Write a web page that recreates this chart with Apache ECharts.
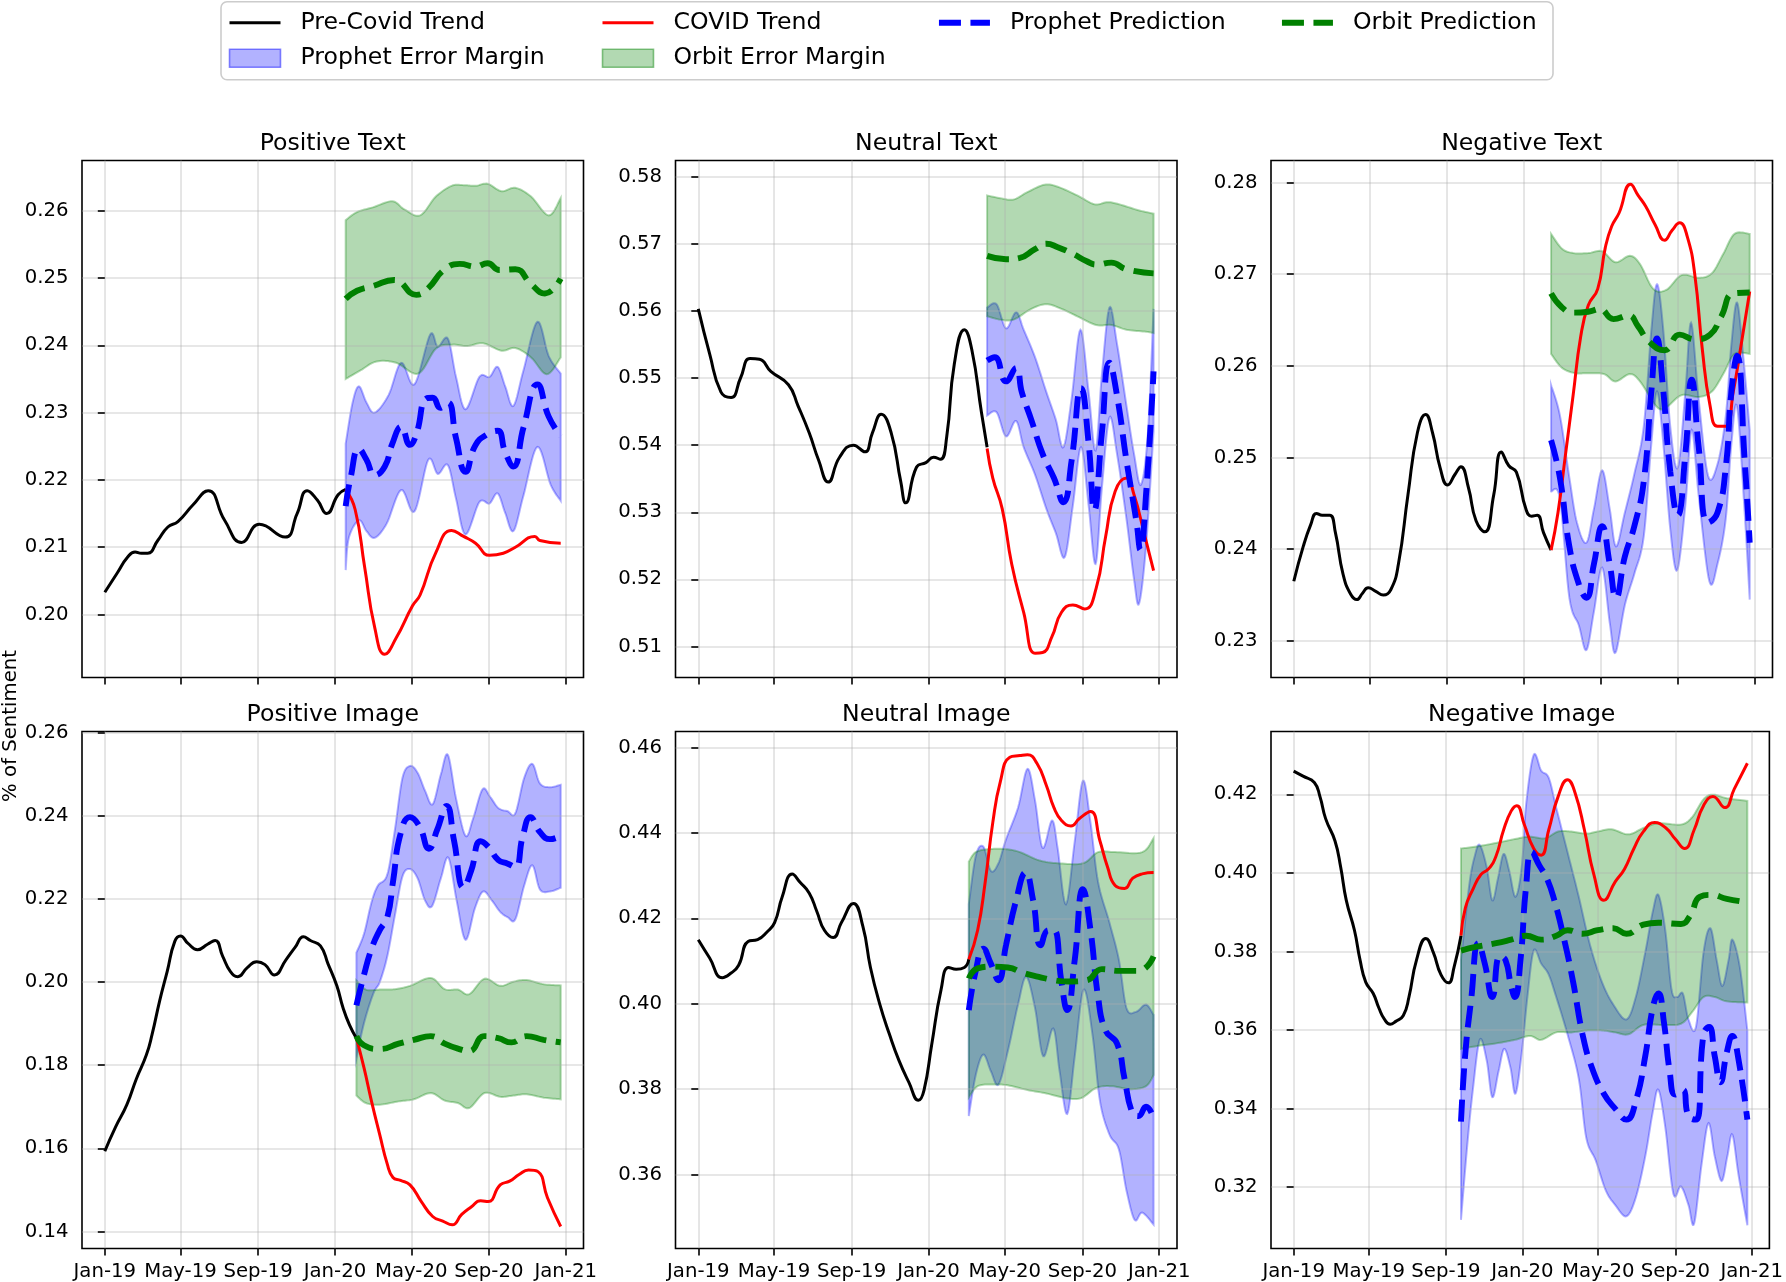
<!DOCTYPE html>
<html>
<head>
<meta charset="utf-8">
<script src="https://cdn.jsdelivr.net/npm/echarts@6.0.0/dist/echarts.min.js"></script>
<style>
html,body{margin:0;padding:0;background:#fff;}
#chart{width:1786px;height:1282px;}
</style>
</head>
<body>
<div id="chart"></div>
<script>
// ---------- data (x = days since 2019-01-01) ----------
const xTickDays = [0, 120, 243, 365, 486, 609, 731];
const xTickLabels = ['Jan-19', 'May-19', 'Sep-19', 'Jan-20', 'May-20', 'Sep-20', 'Jan-21'];
const panelTitles = ['Positive Text', 'Neutral Text', 'Negative Text', 'Positive Image', 'Neutral Image', 'Negative Image'];
const seriesNames = ['Pre-Covid Trend', 'COVID Trend', 'Prophet Prediction', 'Orbit Prediction', 'Prophet Error Margin', 'Orbit Error Margin'];

const p1YTicks = [0.20, 0.21, 0.22, 0.23, 0.24, 0.25, 0.26];
const p2YTicks = [0.51, 0.52, 0.53, 0.54, 0.55, 0.56, 0.57, 0.58];
const p3YTicks = [0.23, 0.24, 0.25, 0.26, 0.27, 0.28];
const p4YTicks = [0.14, 0.16, 0.18, 0.20, 0.22, 0.24, 0.26];
const p5YTicks = [0.36, 0.38, 0.40, 0.42, 0.44, 0.46];
const p6YTicks = [0.32, 0.34, 0.36, 0.38, 0.40, 0.42];

// Panel 1: Positive Text
const p1Pre = [[0,0.2033],[20,0.2062],[36,0.2085],[48,0.2093],[58,0.2091],[68,0.2091],[84,0.2110],[100,0.2130],[116,0.2138],[140,0.2163],[164,0.2184],[190,0.2140],[217,0.2107],[245,0.2134],[286,0.2115],[305,0.2150],[321,0.2184],[337,0.2170],[352,0.2150],[370,0.2178],[382,0.2186]];
const p1Covid = [[382,0.2186],[397,0.2156],[412,0.2071],[428,0.1981],[444,0.1941],[462,0.1965],[488,0.2013],[500,0.2029],[525,0.2092],[550,0.2125],[569,0.2116],[588,0.2106],[610,0.2088],[632,0.2091],[651,0.2100],[682,0.2116],[690,0.2110],[723,0.2106]];
const p1ProphetMean = [[382,0.2161],[390,0.2204],[403,0.2246],[415,0.2230],[428,0.2207],[444,0.2220],[456,0.2254],[470,0.2279],[484,0.2252],[494,0.2268],[510,0.2321],[520,0.2322],[532,0.2307],[544,0.2315],[557,0.2262],[572,0.2212],[588,0.2252],[607,0.2268],[623,0.2273],[635,0.2241],[648,0.2220],[664,0.2278],[686,0.2342],[704,0.2294],[723,0.2265]];
const p1ProphetUpper = [[382,0.2254],[393,0.2315],[403,0.2339],[415,0.2315],[428,0.2300],[450,0.2326],[470,0.2374],[491,0.2342],[516,0.2416],[528,0.2398],[544,0.2410],[557,0.2353],[572,0.2305],[594,0.2353],[610,0.2353],[623,0.2368],[635,0.2339],[648,0.2310],[664,0.2363],[686,0.2435],[704,0.2384],[723,0.2358]];
const p1ProphetLower = [[382,0.2066],[387,0.2114],[403,0.2140],[415,0.2124],[428,0.2114],[447,0.2135],[470,0.2185],[491,0.2153],[513,0.2230],[528,0.2209],[544,0.2222],[557,0.2172],[572,0.2119],[594,0.2167],[610,0.2165],[623,0.2180],[635,0.2151],[648,0.2124],[664,0.2177],[686,0.2249],[707,0.2193],[723,0.2169]];
const p1OrbitMean = [[382,0.2469],[400,0.2481],[425,0.2488],[459,0.2497],[494,0.2475],[513,0.2485],[538,0.2512],[563,0.2521],[588,0.2517],[607,0.2522],[626,0.2512],[651,0.2513],[676,0.2491],[698,0.2477],[723,0.2499]];
const p1OrbitUpper = [[382,0.2586],[400,0.2598],[425,0.2605],[456,0.2614],[475,0.2602],[500,0.2593],[525,0.2621],[550,0.2637],[569,0.2638],[588,0.2637],[607,0.2640],[629,0.2629],[651,0.2634],[676,0.2621],[704,0.2593],[723,0.2619]];
const p1OrbitLower = [[382,0.2350],[406,0.2363],[431,0.2376],[462,0.2374],[497,0.2358],[525,0.2395],[550,0.2401],[575,0.2399],[600,0.2403],[629,0.2392],[651,0.2396],[676,0.2382],[701,0.2357],[723,0.2382]];

// Panel 2: Neutral Text
const p2Pre = [[0,0.5603],[18,0.5536],[36,0.5479],[52,0.5471],[67,0.5500],[82,0.5529],[97,0.5528],[115,0.5510],[143,0.5490],[158,0.5459],[176,0.5418],[191,0.5377],[206,0.5345],[224,0.5382],[246,0.5400],[264,0.5390],[276,0.5418],[290,0.5446],[306,0.5418],[321,0.5346],[329,0.5314],[346,0.5367],[361,0.5374],[373,0.5382],[384,0.5379],[394,0.5413],[406,0.5521],[422,0.5572],[434,0.5541],[449,0.5449],[458,0.5397]];
const p2Covid = [[458,0.5395],[467,0.5351],[482,0.5305],[497,0.5223],[516,0.5151],[534,0.5090],[546,0.5091],[561,0.5115],[576,0.5151],[594,0.5162],[613,0.5156],[631,0.5187],[646,0.5264],[661,0.5331],[679,0.5351],[691,0.5326],[707,0.5269],[722,0.5213]];
const p2ProphetMean = [[458,0.5526],[470,0.5531],[488,0.5495],[504,0.5515],[513,0.5479],[528,0.5438],[546,0.5387],[564,0.5351],[579,0.5315],[592,0.5377],[607,0.5485],[619,0.5403],[628,0.5303],[640,0.5418],[652,0.5523],[664,0.5474],[679,0.5377],[695,0.5285],[701,0.5244],[710,0.5326],[722,0.5510]];
const p2ProphetUpper = [[458,0.5605],[473,0.5610],[488,0.5574],[504,0.5598],[516,0.5572],[534,0.5531],[552,0.5479],[567,0.5438],[579,0.5397],[592,0.5469],[606,0.5572],[619,0.5479],[630,0.5392],[640,0.5505],[652,0.5605],[664,0.5551],[679,0.5459],[691,0.5387],[702,0.5341],[713,0.5418],[722,0.5603]];
const p2ProphetLower = [[458,0.5444],[473,0.5449],[488,0.5413],[504,0.5436],[516,0.5397],[534,0.5356],[552,0.5305],[567,0.5269],[581,0.5233],[594,0.5310],[607,0.5397],[619,0.5310],[630,0.5223],[640,0.5336],[652,0.5441],[664,0.5387],[679,0.5290],[691,0.5200],[699,0.5164],[710,0.5249],[722,0.5420]];
const p2OrbitMean = [[458,0.5682],[488,0.5677],[510,0.5679],[534,0.5692],[552,0.5700],[570,0.5695],[594,0.5685],[616,0.5674],[631,0.5669],[655,0.5672],[679,0.5662],[722,0.5656]];
const p2OrbitUpper = [[458,0.5772],[479,0.5768],[500,0.5766],[522,0.5777],[549,0.5788],[570,0.5785],[601,0.5772],[628,0.5759],[649,0.5762],[667,0.5759],[698,0.5750],[722,0.5745]];
const p2OrbitLower = [[458,0.5592],[479,0.5587],[500,0.5587],[528,0.5603],[552,0.5610],[576,0.5603],[601,0.5592],[631,0.5579],[655,0.5579],[679,0.5572],[710,0.5569],[722,0.5567]];

// Panel 3: Negative Text
const p3Pre = [[0,0.2365],[15,0.2403],[27,0.2427],[36,0.2439],[45,0.2437],[57,0.2437],[66,0.2418],[78,0.2373],[90,0.2351],[100,0.2345],[109,0.2352],[118,0.2358],[130,0.2354],[142,0.2350],[154,0.2356],[166,0.2384],[181,0.2459],[196,0.2527],[209,0.2547],[220,0.2527],[232,0.2489],[244,0.2470],[256,0.2482],[265,0.2490],[277,0.2467],[289,0.2431],[303,0.2419],[317,0.2459],[329,0.2506],[341,0.2491],[353,0.2484],[368,0.2444],[377,0.2436],[386,0.2437],[396,0.2418],[408,0.2399]];
const p3Covid = [[408,0.2399],[419,0.2440],[431,0.2504],[443,0.2568],[455,0.2632],[467,0.2666],[482,0.2684],[494,0.2729],[504,0.2752],[516,0.2767],[534,0.2798],[546,0.2786],[558,0.2774],[573,0.2754],[588,0.2737],[600,0.2748],[612,0.2756],[624,0.2741],[636,0.2699],[648,0.2617],[660,0.2557],[672,0.2534],[685,0.2534],[697,0.2572],[709,0.2621],[723,0.2681]];
const p3ProphetMean = [[408,0.2519],[422,0.2478],[437,0.2403],[452,0.2362],[464,0.2347],[476,0.2384],[489,0.2425],[501,0.2384],[511,0.2347],[525,0.2392],[540,0.2425],[555,0.2474],[567,0.2572],[576,0.2630],[585,0.2580],[597,0.2485],[609,0.2437],[621,0.2504],[631,0.2585],[642,0.2512],[657,0.2429],[672,0.2440],[685,0.2489],[694,0.2572],[703,0.2611],[715,0.2497],[723,0.2407]];
const p3ProphetUpper = [[408,0.2579],[422,0.2546],[437,0.2478],[449,0.2429],[464,0.2407],[476,0.2444],[489,0.2486],[501,0.2444],[511,0.2403],[525,0.2440],[540,0.2482],[555,0.2534],[567,0.2639],[576,0.2689],[586,0.2639],[597,0.2534],[609,0.2489],[621,0.2572],[630,0.2647],[642,0.2564],[657,0.2480],[672,0.2493],[685,0.2545],[694,0.2624],[703,0.2669],[713,0.2609],[723,0.2530]];
const p3ProphetLower = [[408,0.2463],[422,0.2455],[437,0.2347],[452,0.2317],[464,0.2290],[476,0.2332],[489,0.2380],[501,0.2320],[510,0.2287],[525,0.2339],[540,0.2373],[555,0.2414],[567,0.2515],[576,0.2572],[586,0.2515],[597,0.2422],[608,0.2377],[621,0.2448],[631,0.2530],[642,0.2459],[659,0.2365],[672,0.2384],[685,0.2433],[694,0.2515],[703,0.2555],[715,0.2440],[723,0.2345]];
const p3OrbitMean = [[408,0.2679],[425,0.2664],[443,0.2658],[467,0.2659],[485,0.2662],[507,0.2651],[531,0.2655],[546,0.2643],[564,0.2626],[588,0.2617],[612,0.2634],[636,0.2629],[660,0.2634],[678,0.2654],[697,0.2679],[723,0.2680]];
const p3OrbitUpper = [[408,0.2744],[425,0.2728],[443,0.2723],[467,0.2723],[489,0.2725],[510,0.2713],[533,0.2720],[549,0.2711],[570,0.2684],[591,0.2683],[615,0.2699],[642,0.2696],[663,0.2701],[681,0.2722],[699,0.2744],[723,0.2744]];
const p3OrbitLower = [[408,0.2613],[425,0.2598],[446,0.2592],[467,0.2592],[492,0.2591],[510,0.2583],[533,0.2591],[549,0.2583],[576,0.2555],[591,0.2555],[615,0.2568],[642,0.2566],[663,0.2572],[681,0.2591],[699,0.2613],[723,0.2613]];

// Panel 4: Positive Image
const p4Pre = [[0,0.1593],[17,0.1651],[35,0.1705],[50,0.1767],[66,0.1825],[75,0.1874],[87,0.1955],[99,0.2026],[111,0.2098],[120,0.2111],[132,0.2093],[147,0.2078],[163,0.2091],[175,0.2100],[187,0.2062],[199,0.2026],[211,0.2013],[226,0.2035],[241,0.2049],[254,0.2042],[269,0.2017],[287,0.2053],[302,0.2084],[315,0.2109],[326,0.2100],[342,0.2087],[354,0.2044],[368,0.1991],[378,0.1937],[388,0.1897],[399,0.1865]];
const p4Covid = [[399,0.1865],[411,0.1794],[423,0.1713],[436,0.1633],[448,0.1562],[457,0.1530],[469,0.1523],[484,0.1512],[502,0.1472],[520,0.1436],[536,0.1425],[551,0.1416],[566,0.1441],[581,0.1459],[596,0.1474],[608,0.1472],[627,0.1512],[642,0.1521],[657,0.1537],[672,0.1548],[687,0.1544],[702,0.1481],[723,0.1412]];
const p4ProphetMean = [[399,0.1944],[411,0.2017],[423,0.2080],[436,0.2125],[448,0.2156],[457,0.2241],[469,0.2357],[484,0.2397],[499,0.2375],[514,0.2321],[527,0.2366],[542,0.2424],[554,0.2339],[569,0.2227],[581,0.2268],[596,0.2339],[608,0.2326],[624,0.2294],[639,0.2285],[651,0.2277],[663,0.2352],[675,0.2397],[690,0.2361],[706,0.2344],[723,0.2352]];
const p4ProphetUpper = [[399,0.2071],[411,0.2116],[423,0.2192],[433,0.2232],[448,0.2259],[460,0.2366],[472,0.2491],[484,0.2520],[496,0.2504],[508,0.2460],[520,0.2428],[533,0.2500],[544,0.2547],[557,0.2442],[572,0.2352],[584,0.2393],[599,0.2464],[611,0.2446],[624,0.2419],[639,0.2411],[651,0.2406],[665,0.2491],[678,0.2525],[690,0.2478],[706,0.2469],[723,0.2475]];
const p4ProphetLower = [[399,0.1816],[411,0.1901],[426,0.1973],[436,0.2000],[448,0.2062],[460,0.2160],[472,0.2254],[484,0.2272],[496,0.2250],[508,0.2196],[519,0.2183],[533,0.2250],[545,0.2299],[558,0.2196],[572,0.2102],[587,0.2178],[600,0.2218],[614,0.2196],[627,0.2169],[639,0.2156],[651,0.2151],[665,0.2232],[678,0.2281],[690,0.2223],[706,0.2218],[723,0.2227]];
const p4OrbitMean = [[399,0.1870],[411,0.1848],[436,0.1839],[466,0.1852],[490,0.1861],[517,0.1870],[539,0.1852],[560,0.1840],[578,0.1834],[602,0.1870],[624,0.1865],[645,0.1855],[669,0.1870],[696,0.1861],[723,0.1855]];
const p4OrbitUpper = [[399,0.2004],[414,0.1982],[436,0.1982],[460,0.1983],[484,0.1991],[517,0.2010],[539,0.1983],[560,0.1982],[578,0.1971],[602,0.2008],[627,0.1991],[648,0.2001],[669,0.2005],[696,0.1995],[723,0.1992]];
const p4OrbitLower = [[399,0.1727],[414,0.1709],[436,0.1705],[466,0.1713],[490,0.1718],[517,0.1733],[539,0.1715],[560,0.1709],[578,0.1697],[602,0.1733],[627,0.1724],[648,0.1727],[669,0.1730],[696,0.1722],[723,0.1718]];

// Panel 5: Neutral Image
const p5Pre = [[0,0.4150],[18,0.4107],[38,0.4061],[52,0.4072],[64,0.4090],[79,0.4146],[94,0.4150],[109,0.4168],[121,0.4190],[133,0.4250],[149,0.4304],[161,0.4285],[176,0.4259],[188,0.4216],[200,0.4172],[214,0.4155],[227,0.4190],[246,0.4235],[261,0.4181],[273,0.4085],[288,0.3998],[303,0.3929],[318,0.3868],[334,0.3816],[349,0.3774],[358,0.3798],[370,0.3903],[385,0.4033],[397,0.4085],[409,0.4081],[422,0.4085],[429,0.4104]];
const p5Covid = [[429,0.4104],[443,0.4172],[455,0.4285],[467,0.4424],[479,0.4520],[494,0.4577],[510,0.4581],[522,0.4583],[537,0.4563],[552,0.4511],[564,0.4459],[576,0.4429],[591,0.4416],[604,0.4433],[622,0.4450],[637,0.4381],[649,0.4320],[661,0.4277],[676,0.4270],[689,0.4294],[704,0.4304],[722,0.4307]];
const p5ProphetMean = [[429,0.3985],[440,0.4077],[452,0.4129],[464,0.4094],[476,0.4055],[488,0.4137],[504,0.4242],[519,0.4307],[531,0.4242],[543,0.4137],[555,0.4172],[564,0.4172],[576,0.4050],[585,0.3985],[597,0.4103],[610,0.4268],[622,0.4172],[634,0.4016],[646,0.3937],[664,0.3907],[676,0.3824],[688,0.3746],[698,0.3737],[710,0.3759],[722,0.3733]];
const p5ProphetUpper = [[429,0.4233],[440,0.4346],[452,0.4368],[464,0.4311],[476,0.4329],[488,0.4385],[507,0.4459],[522,0.4550],[534,0.4476],[546,0.4365],[561,0.4429],[570,0.4363],[583,0.4233],[597,0.4381],[610,0.4522],[622,0.4424],[634,0.4285],[652,0.4190],[667,0.4103],[679,0.3990],[694,0.3981],[710,0.3998],[722,0.3974]];
const p5ProphetLower = [[429,0.3737],[440,0.3833],[452,0.3881],[464,0.3842],[476,0.3811],[491,0.3890],[507,0.3998],[520,0.4063],[534,0.3990],[547,0.3877],[563,0.3942],[573,0.3842],[585,0.3742],[597,0.3877],[611,0.4033],[625,0.3929],[637,0.3772],[652,0.3694],[667,0.3659],[679,0.3563],[692,0.3494],[704,0.3511],[722,0.3483]];
const p5OrbitMean = [[429,0.4059],[443,0.4083],[467,0.4087],[491,0.4085],[516,0.4072],[540,0.4063],[564,0.4055],[588,0.4052],[616,0.4055],[640,0.4081],[667,0.4077],[698,0.4077],[722,0.4111]];
const p5OrbitUpper = [[429,0.4333],[440,0.4355],[461,0.4362],[488,0.4362],[510,0.4355],[540,0.4336],[570,0.4329],[610,0.4329],[634,0.4355],[661,0.4355],[704,0.4355],[722,0.4388]];
const p5OrbitLower = [[429,0.3781],[443,0.3807],[467,0.3811],[491,0.3809],[522,0.3798],[552,0.3790],[583,0.3779],[607,0.3779],[631,0.3803],[655,0.3807],[685,0.3800],[710,0.3807],[722,0.3833]];

// Panel 6: Negative Image
const p6Pre = [[0,0.4259],[15,0.4246],[33,0.4230],[42,0.4194],[51,0.4138],[66,0.4081],[75,0.4015],[84,0.3930],[97,0.3854],[106,0.3778],[115,0.3722],[127,0.3693],[136,0.3656],[145,0.3627],[154,0.3615],[163,0.3622],[175,0.3637],[184,0.3684],[196,0.3778],[211,0.3833],[223,0.3797],[235,0.3741],[247,0.3720],[256,0.3760],[267,0.3840]];
const p6Covid = [[267,0.3840],[274,0.3911],[286,0.3958],[299,0.3996],[311,0.4010],[323,0.4043],[335,0.4109],[347,0.4157],[356,0.4171],[368,0.4123],[383,0.4062],[395,0.4045],[407,0.4109],[422,0.4194],[437,0.4237],[449,0.4204],[464,0.4109],[479,0.3996],[495,0.3930],[513,0.3977],[528,0.4010],[543,0.4062],[558,0.4105],[576,0.4128],[594,0.4114],[609,0.4086],[624,0.4062],[639,0.4109],[654,0.4171],[669,0.4194],[688,0.4166],[703,0.4213],[724,0.4279]];
const p6ProphetMean = [[267,0.3367],[274,0.3542],[283,0.3674],[295,0.3821],[305,0.3769],[317,0.3684],[329,0.3788],[338,0.3778],[347,0.3712],[353,0.3684],[362,0.3778],[371,0.3967],[380,0.4053],[392,0.4019],[404,0.3986],[416,0.3930],[431,0.3835],[446,0.3722],[461,0.3589],[476,0.3504],[495,0.3438],[513,0.3400],[531,0.3372],[546,0.3419],[561,0.3533],[573,0.3656],[582,0.3693],[591,0.3618],[600,0.3495],[609,0.3436],[621,0.3448],[630,0.3381],[642,0.3372],[654,0.3589],[663,0.3608],[672,0.3533],[681,0.3467],[691,0.3542],[700,0.3585],[709,0.3533],[724,0.3372]];
const p6ProphetUpper = [[267,0.3778],[280,0.3967],[289,0.4043],[297,0.4071],[308,0.4015],[317,0.3930],[326,0.3986],[335,0.4048],[344,0.4005],[354,0.3939],[364,0.4015],[371,0.4175],[383,0.4300],[395,0.4260],[407,0.4242],[419,0.4166],[437,0.4053],[455,0.3939],[473,0.3816],[492,0.3722],[510,0.3665],[531,0.3627],[546,0.3684],[561,0.3797],[573,0.3901],[582,0.3944],[593,0.3854],[603,0.3703],[612,0.3684],[621,0.3693],[630,0.3627],[642,0.3608],[654,0.3797],[665,0.3859],[675,0.3778],[684,0.3712],[694,0.3778],[700,0.3830],[712,0.3760],[724,0.3599]];
const p6ProphetLower = [[267,0.3117],[277,0.3306],[286,0.3448],[297,0.3575],[308,0.3523],[317,0.3429],[327,0.3495],[336,0.3552],[346,0.3504],[354,0.3438],[364,0.3542],[373,0.3684],[383,0.3802],[395,0.3769],[407,0.3741],[419,0.3684],[437,0.3589],[455,0.3476],[467,0.3325],[482,0.3268],[498,0.3192],[513,0.3155],[531,0.3126],[546,0.3174],[561,0.3278],[573,0.3391],[582,0.3448],[593,0.3353],[606,0.3183],[618,0.3202],[630,0.3155],[639,0.3107],[651,0.3259],[662,0.3363],[672,0.3278],[683,0.3216],[692,0.3278],[700,0.3334],[710,0.3230],[724,0.3103]];
const p6OrbitMean = [[267,0.3802],[292,0.3812],[323,0.3821],[347,0.3830],[371,0.3840],[395,0.3830],[419,0.3840],[437,0.3854],[461,0.3845],[485,0.3854],[510,0.3859],[531,0.3845],[558,0.3868],[582,0.3873],[618,0.3870],[633,0.3892],[648,0.3939],[666,0.3944],[691,0.3934],[724,0.3925]];
const p6OrbitUpper = [[267,0.4062],[292,0.4067],[323,0.4076],[353,0.4086],[377,0.4092],[401,0.4088],[422,0.4105],[443,0.4105],[467,0.4100],[485,0.4105],[507,0.4111],[534,0.4098],[558,0.4114],[582,0.4126],[618,0.4123],[636,0.4142],[654,0.4187],[669,0.4199],[691,0.4190],[724,0.4183]];
const p6OrbitLower = [[267,0.3552],[292,0.3559],[323,0.3566],[353,0.3575],[377,0.3585],[395,0.3575],[419,0.3594],[443,0.3594],[467,0.3599],[492,0.3599],[513,0.3594],[534,0.3589],[558,0.3613],[588,0.3613],[618,0.3616],[636,0.3646],[654,0.3684],[672,0.3684],[691,0.3673],[724,0.3670]];

// ---------- layout / style ----------
const FONT = 'DejaVu Sans';
const colLeft = [82, 675.5, 1271];
const rowTop = [160.5, 731.5];
const PW = 501.5, PH = 517;
const X_MIN = -36.15, X_MAX = 759.15;

const panels = [
  {pre:p1Pre, covid:p1Covid, pm:p1ProphetMean, pu:p1ProphetUpper, pl:p1ProphetLower, om:p1OrbitMean, ou:p1OrbitUpper, ol:p1OrbitLower, yt:p1YTicks, ymin:0.19064, ymax:0.26746},
  {pre:p2Pre, covid:p2Covid, pm:p2ProphetMean, pu:p2ProphetUpper, pl:p2ProphetLower, om:p2OrbitMean, ou:p2OrbitUpper, ol:p2OrbitLower, yt:p2YTicks, ymin:0.50538, ymax:0.58241},
  {pre:p3Pre, covid:p3Covid, pm:p3ProphetMean, pu:p3ProphetUpper, pl:p3ProphetLower, om:p3OrbitMean, ou:p3OrbitUpper, ol:p3OrbitLower, yt:p3YTicks, ymin:0.22600, ymax:0.28240},
  {pre:p4Pre, covid:p4Covid, pm:p4ProphetMean, pu:p4ProphetUpper, pl:p4ProphetLower, om:p4OrbitMean, ou:p4OrbitUpper, ol:p4OrbitLower, yt:p4YTicks, ymin:0.13590, ymax:0.26030},
  {pre:p5Pre, covid:p5Covid, pm:p5ProphetMean, pu:p5ProphetUpper, pl:p5ProphetLower, om:p5OrbitMean, ou:p5OrbitUpper, ol:p5OrbitLower, yt:p5YTicks, ymin:0.34270, ymax:0.46374},
  {pre:p6Pre, covid:p6Covid, pm:p6ProphetMean, pu:p6ProphetUpper, pl:p6ProphetLower, om:p6OrbitMean, ou:p6OrbitUpper, ol:p6OrbitLower, yt:p6YTicks, ymin:0.30440, ymax:0.43597}
];

const BLUE_FILL = 'rgba(0,0,255,0.3)';
const GREEN_FILL = 'rgba(0,128,0,0.3)';
const GRID_COLOR = 'rgba(176,176,176,0.4)';
const DASH = [22, 9.5];

// Catmull-Rom sampling in pixel space
function spline(pts, seg) {
  const out = [];
  const n = pts.length;
  if (n < 3) return pts.slice();
  for (let i = 0; i < n - 1; i++) {
    const p0 = pts[Math.max(i - 1, 0)], p1 = pts[i], p2 = pts[i + 1], p3 = pts[Math.min(i + 2, n - 1)];
    for (let k = 0; k < seg; k++) {
      const t = k / seg, t2 = t * t, t3 = t2 * t;
      const f = (a, b, c, d) => 0.5 * (2 * b + (-a + c) * t + (2 * a - 5 * b + 4 * c - d) * t2 + (-a + 3 * b - 3 * c + d) * t3);
      out.push([f(p0[0], p1[0], p2[0], p3[0]), f(p0[1], p1[1], p2[1], p3[1])]);
    }
  }
  out.push(pts[n - 1]);
  return out;
}

function bandSeries(name, upper, lower, fill, idx, z) {
  return {
    type: 'custom', name: name, xAxisIndex: idx, yAxisIndex: idx, z: z,
    coordinateSystem: 'cartesian2d',
    itemStyle: {color: fill},
    data: upper.concat(lower.slice().reverse()),
    encode: {x: 0, y: 1},
    silent: true,
    renderItem: function (params, api) {
      if (params.dataIndex !== 0) return null;
      const up = spline(upper.map(p => api.coord(p)), 10);
      const lo = spline(lower.map(p => api.coord(p)), 10).reverse();
      return {
        type: 'polygon',
        shape: {points: up.concat(lo)},
        style: {fill: fill, stroke: fill, lineWidth: 2}
      };
    }
  };
}

function lineSeries(name, data, color, width, dashed, idx) {
  return {
    type: 'line', name: name, xAxisIndex: idx, yAxisIndex: idx,
    data: data, symbol: 'none', smooth: 0.5, z: 3, silent: true,
    lineStyle: {color: color, width: width, type: dashed ? DASH : 'solid', cap: 'butt'},
    itemStyle: {color: color}
  };
}

const grids = [], xAxes = [], yAxes = [], series = [], graphics = [];
panels.forEach((p, i) => {
  const r = Math.floor(i / 3), c = i % 3;
  grids.push({left: colLeft[c], top: rowTop[r], width: PW, height: PH, show: true,
    borderColor: '#000', borderWidth: 1.6, backgroundColor: 'transparent', containLabel: false});
  xAxes.push({
    type: 'value', gridIndex: i, min: X_MIN, max: X_MAX, z: 1.5,
    axisLine: {show: false},
    axisTick: {show: true, length: 7, lineStyle: {color: '#000', width: 1.6}, customValues: xTickDays},
    axisLabel: {show: r === 1, customValues: xTickDays, margin: 13, color: '#000', fontSize: 19.7, fontFamily: FONT,
      formatter: v => { const k = xTickDays.indexOf(Math.round(v)); return k >= 0 ? xTickLabels[k] : ''; }},
    splitLine: {show: true, lineStyle: {color: GRID_COLOR, width: 1.6}}
  });
  yAxes.push({
    type: 'value', gridIndex: i, min: p.ymin, max: p.ymax, z: 1.5,
    axisLine: {show: false},
    axisTick: {show: true, length: 7, lineStyle: {color: '#000', width: 1.6}, customValues: p.yt},
    axisLabel: {customValues: p.yt, margin: 13.5, color: '#000', fontSize: 19.7, fontFamily: FONT,
      formatter: v => v.toFixed(2)},
    splitLine: {show: true, lineStyle: {color: GRID_COLOR, width: 1.6}}
  });
  series.push(bandSeries(seriesNames[4], p.pu, p.pl, BLUE_FILL, i, 1));
  series.push(bandSeries(seriesNames[5], p.ou, p.ol, GREEN_FILL, i, 1));
  series.push(lineSeries(seriesNames[0], p.pre, '#000000', 3, false, i));
  series.push(lineSeries(seriesNames[1], p.covid, '#ff0000', 3, false, i));
  series.push(lineSeries(seriesNames[2], p.pm, '#0000ff', 5.9, true, i));
  series.push(lineSeries(seriesNames[3], p.om, '#008000', 5.9, true, i));
  graphics.push({type: 'text', x: colLeft[c] + PW / 2, y: rowTop[r] - 16.8, silent: true,
    style: {text: panelTitles[i], fontSize: 23.6, fontFamily: FONT, fill: '#000', align: 'center', verticalAlign: 'middle'}});
});

graphics.push({type: 'text', x: 11, y: 726, rotation: Math.PI / 2, silent: true,
  style: {text: '% of Sentiment', fontSize: 19.7, fontFamily: FONT, fill: '#000', align: 'center', verticalAlign: 'middle'}});
graphics.push({type: 'rect', z: -1, silent: true, shape: {x: 221, y: 1.7, width: 1332, height: 78, r: 6},
  style: {fill: 'rgba(255,255,255,0.8)', stroke: '#cccccc', lineWidth: 1.6}});

const legendText = {color: '#000', fontSize: 23.6, fontFamily: FONT, lineHeight: 26, padding: [0, 0, 0, 15]};
function legendCol(left, items) {
  return {orient: 'vertical', left: left, top: 9.8, padding: 0, itemGap: 9.5, itemWidth: 51, itemHeight: 18,
    selectedMode: false, textStyle: legendText, data: items};
}
const HIDDEN = {color: 'rgba(0,0,0,0)', borderColor: 'rgba(0,0,0,0)', borderWidth: 0, opacity: 0};
const bandIcon = (name, col, edge) => ({name: name, icon: 'rect', itemStyle: {color: col, borderColor: edge, borderWidth: 1.6}});
const lineIcon = (name, w) => ({name: name, lineStyle: {width: w}, itemStyle: HIDDEN});

const option = {
  backgroundColor: '#ffffff',
  animation: false,
  grid: grids, xAxis: xAxes, yAxis: yAxes, series: series,
  graphic: graphics,
  legend: [
    legendCol(228, [lineIcon(seriesNames[0], 3), bandIcon(seriesNames[4], BLUE_FILL, 'rgba(0,0,255,0.45)')]),
    legendCol(601, [lineIcon(seriesNames[1], 3), bandIcon(seriesNames[5], GREEN_FILL, 'rgba(0,128,0,0.45)')]),
    legendCol(936, [lineIcon(seriesNames[2], 5.9)]),
    legendCol(1279, [lineIcon(seriesNames[3], 5.9)])
  ]
};

const chart = echarts.init(document.getElementById('chart'), null, {renderer: 'canvas'});
chart.setOption(option);
</script>
</body>
</html>
